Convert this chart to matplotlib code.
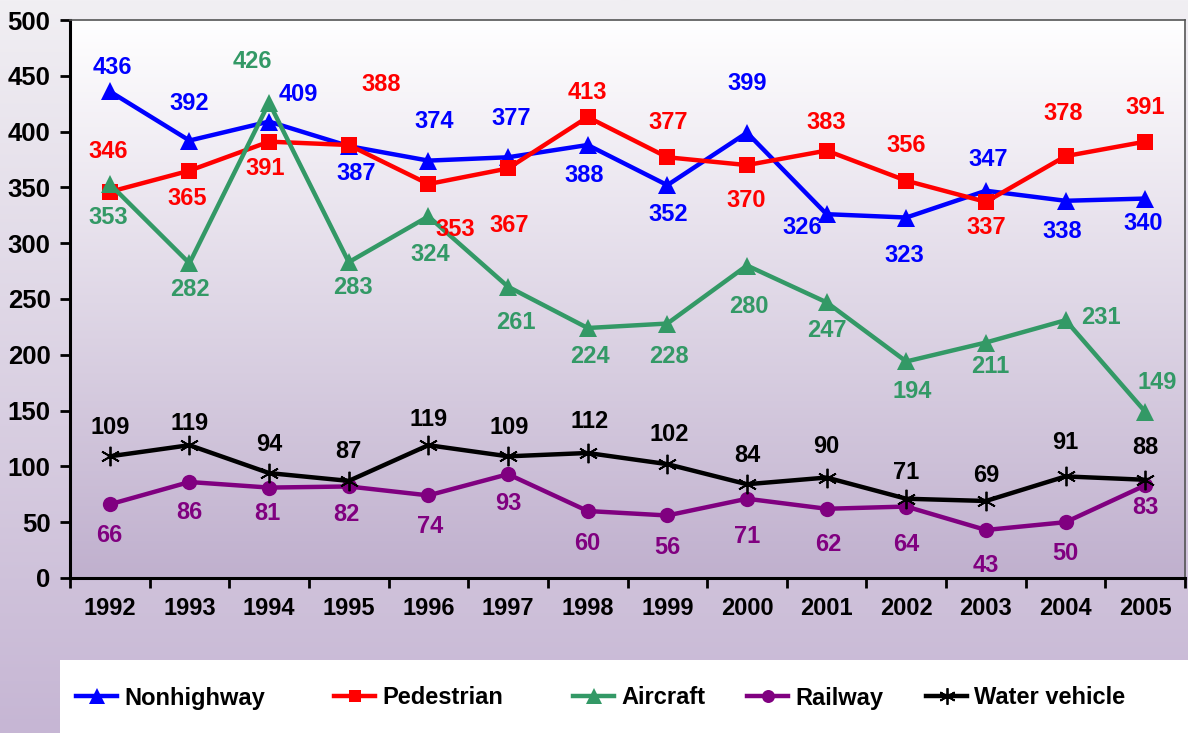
import matplotlib.pyplot as plt
import numpy as np
from matplotlib.colors import LinearSegmentedColormap
from matplotlib.lines import Line2D
from matplotlib.patches import Rectangle

plt.rcParams['font.family'] = ['Liberation Sans', 'DejaVu Sans']
plt.rcParams['font.weight'] = 'bold'

years = ['1992', '1993', '1994', '1995', '1996', '1997', '1998',
         '1999', '2000', '2001', '2002', '2003', '2004', '2005']
nonhighway = [436, 392, 409, 387, 374, 377, 388, 352, 399, 326, 323, 347, 338, 340]
pedestrian = [346, 365, 391, 388, 353, 367, 413, 377, 370, 383, 356, 337, 378, 391]
aircraft = [353, 282, 426, 283, 324, 261, 224, 228, 280, 247, 194, 211, 231, 149]
railway = [66, 86, 81, 82, 74, 93, 60, 56, 71, 62, 64, 43, 50, 83]
water = [109, 119, 94, 87, 119, 109, 112, 102, 84, 90, 71, 69, 91, 88]

# label offsets in pixels (dx, dy)
off_nh = [(3, 24), (0, 37), (29, 27), (7, -27), (6, 39), (3, 39), (-4, -31),
          (1, -29), (0, 49), (-24, -13), (-2, -38), (2, 31), (-3, -31), (-2, -25)]
off_pd = [(-2, 40), (-2, -28), (-4, -27), (32, 60), (27, -45), (1, -57), (0, 25),
          (1, 35), (-1, -35), (0, 28), (0, 35), (0, -26), (-2, 43), (0, 34)]
off_ac = [(-2, -33), (0, -26), (-17, 41), (4, -25), (2, -38), (8, -36), (2, -28),
          (2, -33), (2, -41), (0, -28), (6, -30), (4, -24), (35, 3), (12, 29)]
off_rw = [(-1, -31), (0, -30), (-2, -26), (-2, -28), (2, -31), (0, -29), (0, -32),
          (0, -32), (0, -38), (2, -36), (0, -38), (0, -36), (0, -31), (0, -22)]
off_wv = [(0, 29), (0, 22), (0, 29), (0, 29), (0, 26), (1, 29), (2, 31),
          (2, 30), (0, 29), (0, 31), (0, 26), (0, 25), (0, 34), (0, 32)]

green = '#339966'
purple = '#800080'
series = [
    ('Nonhighway', nonhighway, 'blue', '^', 13, off_nh),
    ('Pedestrian', pedestrian, 'red', 's', 11, off_pd),
    ('Aircraft', aircraft, green, '^', 13, off_ac),
    ('Railway', railway, purple, 'o', 11, off_rw),
    ('Water vehicle', water, 'black', (6, 2, 0), 14, off_wv),
]

fig = plt.figure(figsize=(11.88, 7.33), dpi=100)

# figure background gradient
bg = fig.add_axes([0, 0, 1, 1], zorder=-10)
bg_cmap = LinearSegmentedColormap.from_list('bg', ['#f1eff3', '#c6b6d4'])
bg.imshow(np.linspace(0, 1, 256).reshape(-1, 1), aspect='auto', cmap=bg_cmap,
          extent=[0, 1, 0, 1])
bg.set_axis_off()

ax = fig.add_axes([0.0589, 0.2115, 0.9386, 0.7612])
x = np.arange(len(years))
pa_cmap = LinearSegmentedColormap.from_list('pa', ['#ffffff', '#c0b0ce'])
ax.imshow(np.linspace(0, 1, 256).reshape(-1, 1), aspect='auto', cmap=pa_cmap,
          extent=[-0.5, len(years) - 0.5, 0, 500], zorder=0)

handles = []
for name, vals, col, mk, ms, offs in series:
    mew = 1.3 if mk == (6, 2, 0) else 0
    ln, = ax.plot(x, vals, color=col, lw=3.2, marker=mk, ms=ms, mfc=col, mec=col,
                  mew=mew, zorder=3, label=name)
    handles.append(ln)
    for xi, v, (dx, dy) in zip(x, vals, offs):
        ax.annotate(str(v), (xi, v), xytext=(dx * 0.72, dy * 0.72),
                    textcoords='offset points', ha='center', va='center',
                    color=col, fontsize=17, fontweight='bold', zorder=4)

ax.set_xlim(-0.5, len(years) - 0.5)
ax.set_ylim(0, 500)
ax.set_yticks(np.arange(0, 501, 50))
ax.set_xticks(x)
ax.set_xticklabels(years)
ax.set_xticks(np.arange(-0.5, len(years), 1), minor=True)
ax.tick_params(axis='x', which='major', length=0, pad=14, labelsize=17)
ax.tick_params(axis='x', which='minor', length=7, width=2)
ax.tick_params(axis='y', length=7, width=2, labelsize=18.5, pad=7)
for lab in ax.get_xticklabels() + ax.get_yticklabels():
    lab.set_fontweight('bold')
ax.spines['left'].set_linewidth(2.2)
ax.spines['bottom'].set_linewidth(2.2)
ax.spines['top'].set_color('#555555')
ax.spines['right'].set_color('#555555')
ax.spines['top'].set_linewidth(1.2)
ax.spines['right'].set_linewidth(1.2)

# legend box
fig.patches.append(Rectangle((60 / 1188, 0), 1 - 60 / 1188, 73 / 733,
                             transform=fig.transFigure, facecolor='white',
                             edgecolor='none', zorder=1))
leg_x = [76, 334, 573, 747, 926]
for h, lx in zip(handles, leg_x):
    proxy = Line2D([], [], color=h.get_color(), lw=3.2, marker=h.get_marker(),
                   ms=h.get_markersize() * 0.85, mfc=h.get_color(), mec=h.get_color(),
                   mew=h.get_markeredgewidth())
    leg = fig.legend([proxy], [h.get_label()], loc='center left',
                     bbox_to_anchor=(lx / 1188, 1 - 698 / 733), frameon=False,
                     prop={'size': 17, 'weight': 'bold'}, handlelength=1.75,
                     handletextpad=0.3, borderpad=0, borderaxespad=0)
    leg.set_zorder(5)

fig.savefig('out.png', dpi=100)
